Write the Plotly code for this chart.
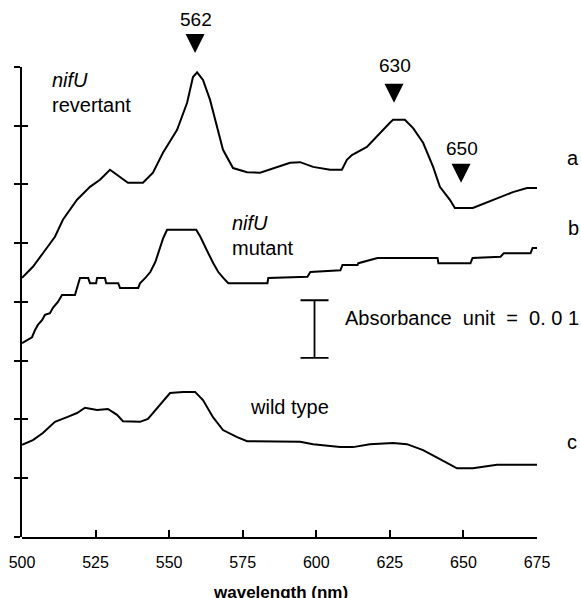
import plotly.graph_objects as go

# ---------------- data ----------------
# curve a : nifU revertant
wl_a = [500.0, 503.7, 507.1, 511.2, 513.9, 518.7, 523.1, 526.5, 529.9, 533.3, 536.0,
        541.1, 544.5, 547.9, 552.7, 556.1, 558.1, 559.5, 561.5, 563.9, 566.3, 568.3,
        571.7, 576.5, 580.9, 586.6, 591.1, 594.5, 598.9, 604.7, 608.7, 610.4, 612.1,
        617.2, 621.6, 625.0, 626.1, 630.1, 632.9, 636.3, 639.7, 642.0, 645.4, 647.1,
        653.2, 658.0, 662.4, 666.8, 671.6, 675.0]
abs_a = [4.41, 4.60, 4.83, 5.11, 5.40, 5.74, 5.96, 6.08, 6.25, 6.13, 6.03,
         6.03, 6.20, 6.54, 6.93, 7.39, 7.83, 7.91, 7.78, 7.44, 6.98, 6.59,
         6.28, 6.21, 6.20, 6.30, 6.37, 6.38, 6.30, 6.25, 6.25, 6.42, 6.50,
         6.64, 6.88, 7.05, 7.10, 7.10, 6.96, 6.71, 6.30, 5.96, 5.74, 5.60,
         5.60, 5.70, 5.79, 5.87, 5.94, 5.94]

# curve b : nifU mutant
wl_b = [500.0, 503.4, 504.4, 505.4, 506.8, 507.8, 509.5, 510.5, 512.2, 513.6, 518.0,
        518.7, 519.7, 522.5, 523.1, 525.2, 525.5, 528.2, 528.6, 532.7, 533.3, 539.5,
        540.1, 541.9, 543.6, 545.3, 547.0, 548.0, 549.3, 559.2, 560.6, 561.6, 563.3,
        565.0, 566.7, 568.4, 570.1, 583.4, 583.7, 597.0, 598.0, 608.2, 608.9, 614.0,
        614.3, 620.8, 641.2, 641.5, 652.4, 653.1, 662.6, 663.7, 672.8, 673.5, 675.0]
abs_b = [3.30, 3.40, 3.52, 3.61, 3.69, 3.78, 3.81, 3.90, 4.00, 4.12, 4.12,
         4.24, 4.41, 4.41, 4.32, 4.32, 4.41, 4.41, 4.32, 4.32, 4.24, 4.24,
         4.32, 4.41, 4.51, 4.68, 4.92, 5.09, 5.23, 5.23, 5.11, 5.00, 4.83,
         4.66, 4.51, 4.41, 4.32, 4.32, 4.41, 4.43, 4.51, 4.54, 4.63, 4.63,
         4.66, 4.75, 4.75, 4.66, 4.66, 4.75, 4.77, 4.83, 4.83, 4.92, 4.92]

# curve c : wild type
wl_c = [500.0, 503.7, 507.1, 511.2, 515.3, 518.7, 521.4, 525.5, 529.2, 532.3, 534.3,
        540.1, 542.8, 546.9, 550.3, 554.7, 558.8, 561.5, 564.9, 568.3, 573.1, 576.5,
        594.5, 598.9, 608.1, 612.5, 618.2, 626.1, 630.8, 636.3, 641.0, 644.4, 647.8,
        653.2, 661.4, 675.0]
abs_c = [1.57, 1.65, 1.77, 1.96, 2.04, 2.11, 2.20, 2.16, 2.18, 2.08, 1.97,
         1.96, 2.01, 2.25, 2.45, 2.47, 2.47, 2.33, 2.04, 1.82, 1.70, 1.63,
         1.62, 1.58, 1.53, 1.53, 1.58, 1.60, 1.58, 1.48, 1.36, 1.26, 1.17,
         1.17, 1.23, 1.23]

# peak markers
peak_labels = ["562", "630", "650"]
peak_x = [558.8, 626.4, 649.2]
peak_tip = [8.24, 7.39, 6.03]
peak_text_y = [8.80, 8.03, 6.62]

x_ticks = [500, 525, 550, 575, 600, 625, 650, 675]
y_ticks = [0, 1, 2, 3, 4, 5, 6, 7, 8]

# scale bar : 1 axis unit = 0.01 absorbance
bar_x = [599.4]
bar_y = [3.54]
bar_half = 0.49

FONT = "Liberation Sans, Arial, Helvetica, sans-serif"
LINE = dict(color="black", width=2)

Y_TOP = 8.97          # data range of the drawing area (extends above the axis)
AX_DOMAIN = 8 / Y_TOP  # visible axis covers 0..8 only

fig = go.Figure()
for wl, ab, nm in [(wl_a, abs_a, "a"), (wl_b, abs_b, "b"), (wl_c, abs_c, "c")]:
    fig.add_trace(go.Scatter(x=wl, y=ab, mode="lines", line=LINE, name=nm,
                             showlegend=False, hoverinfo="skip"))

fig.add_trace(go.Scatter(x=peak_x, y=peak_tip, mode="markers",
                         marker=dict(symbol="arrow-down", size=19, color="black",
                                     line=dict(width=0)),
                         showlegend=False, hoverinfo="skip"))

fig.add_trace(go.Scatter(x=bar_x, y=bar_y, mode="markers", yaxis="y2",
                         marker=dict(size=1, color="rgba(0,0,0,0)"),
                         error_y=dict(type="constant", value=bar_half, color="black",
                                      thickness=1.8, width=14),
                         showlegend=False, hoverinfo="skip"))
fig.add_trace(go.Scatter(x=[None], y=[None], yaxis="y3", mode="markers",
                         showlegend=False, hoverinfo="skip"))

ann = []
def txt(x, y, s, xanchor="center", size=20, xref="x", yref="y", **kw):
    ann.append(dict(x=x, y=y, xref=xref, yref=yref, text=s, showarrow=False,
                    xanchor=xanchor, yanchor="middle",
                    font=dict(family=FONT, size=size, color="black"), **kw))

for lab, px, py in zip(peak_labels, peak_x, peak_text_y):
    txt(px + 0.4, py, lab, size=19)

txt(509.5, 7.78, "<i>nifU</i>", xanchor="left")
txt(509.5, 7.35, "revertant", xanchor="left")
txt(570.8, 5.34, "<i>nifU</i>", xanchor="left")
txt(570.8, 4.92, "mutant", xanchor="left")
txt(576.9, 2.21, "wild type", xanchor="left")
txt(1.070, 6.45, "a", xref="paper")
txt(1.070, 5.26, "b", xref="paper")
txt(1.068, 1.62, "c", xref="paper")
txt(609.2, 3.73, "Absorbance&nbsp; unit&nbsp; =&nbsp; 0. 0 1", xanchor="left")
txt(0.501, -0.1044, "<b>wavelength (nm)</b>", size=17, xref="paper", yref="paper")

common_y = dict(showgrid=False, zeroline=False, showticklabels=False,
                tickcolor="black", tickwidth=1.5, ticklen=6)

fig.update_layout(
    width=581, height=598,
    margin=dict(l=22, r=44, t=10, b=61, pad=0),
    paper_bgcolor="white", plot_bgcolor="rgba(0,0,0,0)",
    font=dict(family=FONT, color="black"),
    annotations=ann,
    xaxis=dict(range=[500, 675], tickvals=x_ticks, ticks="inside", ticklen=7,
               tickwidth=1.5, tickcolor="black", showline=True, linewidth=2,
               linecolor="black", showgrid=False, zeroline=False,
               tickfont=dict(size=16, family=FONT, color="black"),
               ticklabelstandoff=10),
    yaxis=dict(range=[0, Y_TOP], domain=[0, 1], showline=False, ticks="",
               showgrid=False, zeroline=False, showticklabels=False),
    yaxis2=dict(range=[0, 8], domain=[0, AX_DOMAIN], anchor="x", tickvals=y_ticks,
                ticks="outside", showline=True, linewidth=2, linecolor="black",
                **common_y),
    yaxis3=dict(range=[0, 8], domain=[0, AX_DOMAIN], anchor="x", tickvals=y_ticks,
                ticks="inside", showline=False, overlaying="y2", side="left",
                **common_y),
)

fig.write_html("out.html", config={"displayModeBar": False},
               post_script="document.body.style.margin='0';"
                           "document.body.style.overflow='hidden';")
